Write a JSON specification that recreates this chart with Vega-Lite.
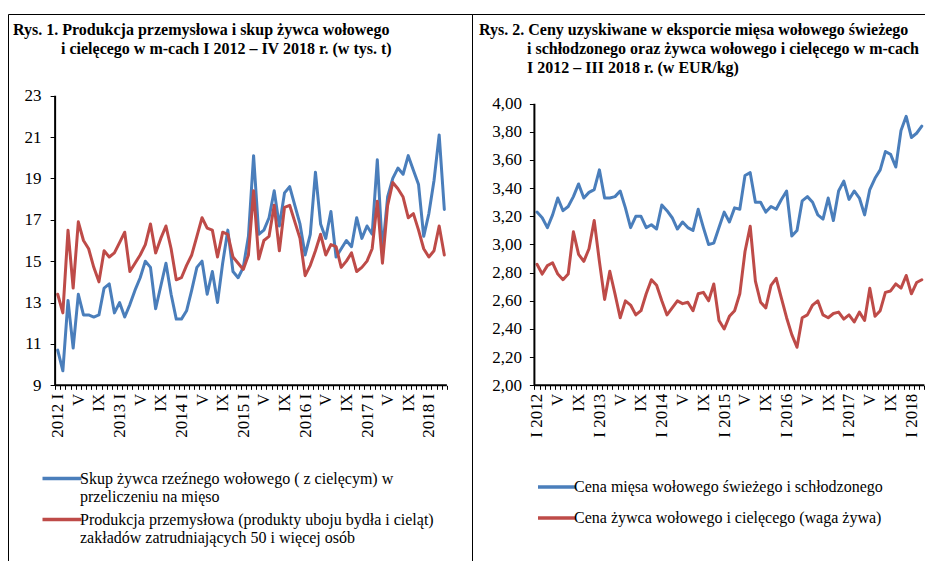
{
  "$schema": "https://vega.github.io/schema/vega-lite/v6.json",
  "padding": {"left": 7, "top": 13, "right": 0, "bottom": 0},
  "background": "white",
  "spacing": 0,
  "bounds": "flush",
  "resolve": {"scale": {"color": "independent"}, "legend": {"color": "independent"}},
  "datasets": {
    "rys1": [
      {"m":0,"skup":10.7,"prod":13.4},{"m":1,"skup":9.7,"prod":12.5},{"m":2,"skup":13.1,"prod":16.5},{"m":3,"skup":10.8,"prod":13.7},
      {"m":4,"skup":13.4,"prod":16.9},{"m":5,"skup":12.4,"prod":16.0},{"m":6,"skup":12.4,"prod":15.6},{"m":7,"skup":12.3,"prod":14.7},
      {"m":8,"skup":12.4,"prod":14.0},{"m":9,"skup":13.7,"prod":15.5},{"m":10,"skup":13.9,"prod":15.2},{"m":11,"skup":12.5,"prod":15.4},
      {"m":12,"skup":13.0,"prod":15.9},{"m":13,"skup":12.3,"prod":16.4},{"m":14,"skup":12.9,"prod":14.5},{"m":15,"skup":13.6,"prod":14.9},
      {"m":16,"skup":14.2,"prod":15.3},{"m":17,"skup":15.0,"prod":15.8},{"m":18,"skup":14.7,"prod":16.8},{"m":19,"skup":12.7,"prod":15.4},
      {"m":20,"skup":13.8,"prod":16.1},{"m":21,"skup":14.9,"prod":16.7},{"m":22,"skup":13.4,"prod":15.6},{"m":23,"skup":12.2,"prod":14.1},
      {"m":24,"skup":12.2,"prod":14.2},{"m":25,"skup":12.6,"prod":14.8},{"m":26,"skup":13.6,"prod":15.3},{"m":27,"skup":14.7,"prod":16.2},
      {"m":28,"skup":15.0,"prod":17.1},{"m":29,"skup":13.4,"prod":16.6},{"m":30,"skup":14.5,"prod":16.5},{"m":31,"skup":13.0,"prod":15.2},
      {"m":32,"skup":14.9,"prod":16.4},{"m":33,"skup":16.5,"prod":16.3},{"m":34,"skup":14.5,"prod":15.2},{"m":35,"skup":14.2,"prod":14.9},
      {"m":36,"skup":14.7,"prod":14.6},{"m":37,"skup":16.2,"prod":15.3},{"m":38,"skup":20.1,"prod":18.4},{"m":39,"skup":16.3,"prod":15.1},
      {"m":40,"skup":16.5,"prod":16.0},{"m":41,"skup":17.1,"prod":16.2},{"m":42,"skup":18.4,"prod":17.7},{"m":43,"skup":16.7,"prod":15.5},
      {"m":44,"skup":18.3,"prod":17.6},{"m":45,"skup":18.6,"prod":17.7},{"m":46,"skup":17.7,"prod":16.9},{"m":47,"skup":16.8,"prod":16.1},
      {"m":48,"skup":15.3,"prod":14.3},{"m":49,"skup":16.3,"prod":14.8},{"m":50,"skup":19.3,"prod":15.5},{"m":51,"skup":16.8,"prod":16.3},
      {"m":52,"skup":16.1,"prod":15.3},{"m":53,"skup":17.4,"prod":15.8},{"m":54,"skup":15.2,"prod":15.7},{"m":55,"skup":15.6,"prod":14.7},
      {"m":56,"skup":16.0,"prod":15.0},{"m":57,"skup":15.7,"prod":15.4},{"m":58,"skup":17.1,"prod":14.5},{"m":59,"skup":16.1,"prod":14.7},
      {"m":60,"skup":16.7,"prod":15.0},{"m":61,"skup":16.3,"prod":15.6},{"m":62,"skup":19.9,"prod":17.9},{"m":63,"skup":15.5,"prod":14.9},
      {"m":64,"skup":18.1,"prod":17.7},{"m":65,"skup":19.0,"prod":18.8},{"m":66,"skup":19.5,"prod":18.5},{"m":67,"skup":19.2,"prod":18.1},
      {"m":68,"skup":20.1,"prod":17.1},{"m":69,"skup":19.4,"prod":17.3},{"m":70,"skup":18.7,"prod":16.5},{"m":71,"skup":16.2,"prod":15.6},
      {"m":72,"skup":17.3,"prod":15.2},{"m":73,"skup":18.9,"prod":15.5},{"m":74,"skup":21.1,"prod":16.7},{"m":75,"skup":17.5,"prod":15.3}
    ],
    "rys2": [
      {"m":0,"mieso":3.23,"zywiec":2.86},{"m":1,"mieso":3.19,"zywiec":2.79},{"m":2,"mieso":3.12,"zywiec":2.85},{"m":3,"mieso":3.21,"zywiec":2.87},
      {"m":4,"mieso":3.33,"zywiec":2.79},{"m":5,"mieso":3.24,"zywiec":2.75},{"m":6,"mieso":3.27,"zywiec":2.79},{"m":7,"mieso":3.34,"zywiec":3.09},
      {"m":8,"mieso":3.43,"zywiec":2.93},{"m":9,"mieso":3.33,"zywiec":2.88},{"m":10,"mieso":3.37,"zywiec":2.97},{"m":11,"mieso":3.39,"zywiec":3.17},
      {"m":12,"mieso":3.53,"zywiec":2.88},{"m":13,"mieso":3.33,"zywiec":2.61},{"m":14,"mieso":3.33,"zywiec":2.81},{"m":15,"mieso":3.34,"zywiec":2.65},
      {"m":16,"mieso":3.38,"zywiec":2.48},{"m":17,"mieso":3.26,"zywiec":2.60},{"m":18,"mieso":3.12,"zywiec":2.57},{"m":19,"mieso":3.20,"zywiec":2.50},
      {"m":20,"mieso":3.20,"zywiec":2.53},{"m":21,"mieso":3.12,"zywiec":2.65},{"m":22,"mieso":3.14,"zywiec":2.75},{"m":23,"mieso":3.11,"zywiec":2.71},
      {"m":24,"mieso":3.28,"zywiec":2.60},{"m":25,"mieso":3.24,"zywiec":2.50},{"m":26,"mieso":3.19,"zywiec":2.55},{"m":27,"mieso":3.11,"zywiec":2.60},
      {"m":28,"mieso":3.16,"zywiec":2.58},{"m":29,"mieso":3.12,"zywiec":2.59},{"m":30,"mieso":3.10,"zywiec":2.53},{"m":31,"mieso":3.25,"zywiec":2.65},
      {"m":32,"mieso":3.12,"zywiec":2.66},{"m":33,"mieso":3.00,"zywiec":2.60},{"m":34,"mieso":3.01,"zywiec":2.72},{"m":35,"mieso":3.12,"zywiec":2.46},
      {"m":36,"mieso":3.23,"zywiec":2.40},{"m":37,"mieso":3.16,"zywiec":2.49},{"m":38,"mieso":3.26,"zywiec":2.53},{"m":39,"mieso":3.25,"zywiec":2.65},
      {"m":40,"mieso":3.49,"zywiec":2.95},{"m":41,"mieso":3.51,"zywiec":3.13},{"m":42,"mieso":3.30,"zywiec":2.74},{"m":43,"mieso":3.30,"zywiec":2.59},
      {"m":44,"mieso":3.23,"zywiec":2.55},{"m":45,"mieso":3.27,"zywiec":2.71},{"m":46,"mieso":3.25,"zywiec":2.76},{"m":47,"mieso":3.32,"zywiec":2.62},
      {"m":48,"mieso":3.38,"zywiec":2.48},{"m":49,"mieso":3.06,"zywiec":2.36},{"m":50,"mieso":3.10,"zywiec":2.27},{"m":51,"mieso":3.31,"zywiec":2.48},
      {"m":52,"mieso":3.34,"zywiec":2.50},{"m":53,"mieso":3.30,"zywiec":2.57},{"m":54,"mieso":3.21,"zywiec":2.60},{"m":55,"mieso":3.18,"zywiec":2.50},
      {"m":56,"mieso":3.33,"zywiec":2.48},{"m":57,"mieso":3.17,"zywiec":2.51},{"m":58,"mieso":3.38,"zywiec":2.52},{"m":59,"mieso":3.45,"zywiec":2.47},
      {"m":60,"mieso":3.32,"zywiec":2.50},{"m":61,"mieso":3.38,"zywiec":2.45},{"m":62,"mieso":3.33,"zywiec":2.52},{"m":63,"mieso":3.21,"zywiec":2.46},
      {"m":64,"mieso":3.39,"zywiec":2.69},{"m":65,"mieso":3.47,"zywiec":2.49},{"m":66,"mieso":3.53,"zywiec":2.53},{"m":67,"mieso":3.66,"zywiec":2.66},
      {"m":68,"mieso":3.64,"zywiec":2.67},{"m":69,"mieso":3.55,"zywiec":2.72},{"m":70,"mieso":3.81,"zywiec":2.69},{"m":71,"mieso":3.91,"zywiec":2.78},
      {"m":72,"mieso":3.76,"zywiec":2.65},{"m":73,"mieso":3.79,"zywiec":2.73},{"m":74,"mieso":3.84,"zywiec":2.75}
    ]
  },
  "hconcat": [
    {
      "width": 464,
      "height": 548,
      "title": {
        "text": ["Rys. 1. Produkcja przemysłowa i skup żywca wołowego", "\u200b\u00a0\u00a0\u00a0\u00a0\u00a0\u00a0\u00a0\u00a0\u00a0\u00a0\u00a0\u00a0i cielęcego w m-cach I 2012 – IV 2018 r. (w tys. t)"],
        "anchor": "start", "frame": "group", "font": "Liberation Serif", "fontSize": 16, "fontWeight": "bold",
        "color": "black", "lineHeight": 19, "offset": -43, "dx": 5
      },
      "resolve": {"axis": {"x": "independent", "y": "independent"}},
      "layer": [
        {
          "data": {"name": "rys1"},
          "transform": [{"fold": ["skup", "prod"], "as": ["s", "v"]}],
          "mark": {"type": "line", "strokeWidth": 3, "strokeJoin": "round", "strokeCap": "round"},
          "encoding": {
            "x": {"field": "m", "type": "quantitative",
              "scale": {"domain": [-9.641, 80.369], "nice": false, "zero": false},
              "axis": {"values": [-0.5,0.5,1.5,2.5,3.5,4.5,5.5,6.5,7.5,8.5,9.5,10.5,11.5,12.5,13.5,14.5,15.5,16.5,17.5,18.5,19.5,20.5,21.5,22.5,23.5,24.5,25.5,26.5,27.5,28.5,29.5,30.5,31.5,32.5,33.5,34.5,35.5,36.5,37.5,38.5,39.5,40.5,41.5,42.5,43.5,44.5,45.5,46.5,47.5,48.5,49.5,50.5,51.5,52.5,53.5,54.5,55.5,56.5,57.5,58.5,59.5,60.5,61.5,62.5,63.5,64.5,65.5,66.5,67.5,68.5,69.5,70.5,71.5,72.5,73.5,74.5,75.5],
                "offset": -176.67, "domain": false, "grid": false, "title": null, "tickSize": 4, "labelAngle": -90,
                "labelOffset": 2.58, "labelPadding": 4, "labelOverlap": false, "labelFlush": false,
                "labelExpr": "(datum.value + 0.5) % 4 == 0 && (datum.value + 0.5) <= 75 ? ((datum.value + 0.5) % 12 == 0 ? (2012 + floor((datum.value + 0.5) / 12)) + ' I' : ((datum.value + 0.5) % 12 == 4 ? 'V' : 'IX')) : ''"}
            },
            "y": {"field": "v", "type": "quantitative",
              "scale": {"domain": [0.46, 26.946], "nice": false, "zero": false},
              "axis": {"values": [9, 11, 13, 15, 17, 19, 21, 23], "format": "d", "offset": -47.12, "domain": false, "grid": false,
                "title": null, "tickSize": 5, "labelPadding": 9, "labelOverlap": false}
            },
            "color": {"field": "s", "type": "nominal",
              "scale": {"domain": ["skup", "prod"], "range": ["#4A7EBB", "#BE4B48"]},
              "legend": {"orient": "none", "legendX": 40, "legendY": 450.5, "title": null, "symbolType": "M-1.625,0H1.625",
                "symbolSize": 576, "symbolStrokeWidth": 3.5, "labelFontSize": 16, "labelFont": "Liberation Serif",
                "labelColor": "black", "labelLimit": 600, "labelOffset": 4, "rowPadding": 1,
                "labelExpr": "datum.label == 'skup' ? ['Skup żywca rzeźnego wołowego ( z cielęcym) w', 'przeliczeniu na mięso'] : ['Produkcja przemysłowa (produkty uboju bydła i cieląt)', 'zakładów zatrudniających 50 i więcej osób']"}
            }
          }
        },
        {
          "data": {"values": [{}]},
          "mark": {"type": "rule", "strokeWidth": 2, "color": "black"},
          "encoding": {
            "x": {"datum": -0.5, "type": "quantitative", "axis": null},
            "y": {"datum": 9, "type": "quantitative", "axis": null},
            "y2": {"datum": 23}
          }
        },
        {
          "data": {"values": [{}]},
          "mark": {"type": "rule", "strokeWidth": 2, "color": "black"},
          "encoding": {
            "x": {"datum": -0.5, "type": "quantitative", "axis": null},
            "x2": {"datum": 75.5},
            "y": {"datum": 9, "type": "quantitative", "axis": null}
          }
        }
      ]
    },
    {
      "width": 454,
      "height": 548,
      "title": {
        "text": ["Rys. 2. Ceny uzyskiwane w eksporcie mięsa wołowego świeżego", "\u200b\u00a0\u00a0\u00a0\u00a0\u00a0\u00a0\u00a0\u00a0\u00a0\u00a0\u00a0\u00a0i schłodzonego oraz żywca wołowego i cielęcego w m-cach", "\u200b\u00a0\u00a0\u00a0\u00a0\u00a0\u00a0\u00a0\u00a0\u00a0\u00a0\u00a0\u00a0I 2012 – III 2018 r. (w EUR/kg)"],
        "anchor": "start", "frame": "group", "font": "Liberation Serif", "fontSize": 16, "fontWeight": "bold",
        "color": "black", "lineHeight": 19, "offset": -62, "dx": 7
      },
      "resolve": {"axis": {"x": "independent", "y": "independent"}},
      "layer": [
        {
          "data": {"name": "rys2"},
          "transform": [{"fold": ["mieso", "zywiec"], "as": ["s", "v"]}],
          "mark": {"type": "line", "strokeWidth": 3, "strokeJoin": "round", "strokeCap": "round"},
          "encoding": {
            "x": {"field": "m", "type": "quantitative",
              "scale": {"domain": [-12.5, 74.808], "nice": false, "zero": false},
              "axis": {"values": [-0.5,0.5,1.5,2.5,3.5,4.5,5.5,6.5,7.5,8.5,9.5,10.5,11.5,12.5,13.5,14.5,15.5,16.5,17.5,18.5,19.5,20.5,21.5,22.5,23.5,24.5,25.5,26.5,27.5,28.5,29.5,30.5,31.5,32.5,33.5,34.5,35.5,36.5,37.5,38.5,39.5,40.5,41.5,42.5,43.5,44.5,45.5,46.5,47.5,48.5,49.5,50.5,51.5,52.5,53.5,54.5,55.5,56.5,57.5,58.5,59.5,60.5,61.5,62.5,63.5,64.5,65.5,66.5,67.5,68.5,69.5,70.5,71.5,72.5,73.5,74.5],
                "offset": -176.67, "domain": false, "grid": false, "title": null, "tickSize": 4, "labelAngle": -90,
                "labelOffset": 2.6, "labelPadding": 4, "labelOverlap": false, "labelFlush": false,
                "labelExpr": "(datum.value + 0.5) % 4 == 0 && (datum.value + 0.5) <= 74 ? ((datum.value + 0.5) % 12 == 0 ? 'I ' + (2012 + floor((datum.value + 0.5) / 12)) : ((datum.value + 0.5) % 12 == 4 ? 'V' : 'IX')) : ''"}
            },
            "y": {"field": "v", "type": "quantitative",
              "scale": {"domain": [0.7455, 4.6367], "nice": false, "zero": false},
              "axis": {"values": [2, 2.2, 2.4, 2.6, 2.8, 3, 3.2, 3.4, 3.6, 3.8, 4], "offset": -62.4, "domain": false, "grid": false,
                "title": null, "tickSize": 5, "labelPadding": 8, "labelOverlap": false,
                "labelExpr": "replace(format(datum.value, '.2f'), '.', ',')"}
            },
            "color": {"field": "s", "type": "nominal",
              "scale": {"domain": ["mieso", "zywiec"], "range": ["#4A7EBB", "#BE4B48"]},
              "legend": {"orient": "none", "legendX": 64, "legendY": 452, "title": null, "symbolType": "stroke",
                "symbolSize": 1444, "symbolStrokeWidth": 3.5, "labelFontSize": 16, "labelFont": "Liberation Serif",
                "labelColor": "black", "labelLimit": 600, "labelOffset": -4, "rowPadding": 2,
                "labelExpr": "datum.label == 'mieso' ? 'Cena mięsa wołowego świeżego i schłodzonego' : 'Cena żywca wołowego i cielęcego (waga żywa)'"}
            }
          }
        },
        {
          "data": {"values": [{}]},
          "mark": {"type": "rule", "strokeWidth": 2, "color": "black"},
          "encoding": {
            "x": {"datum": -0.5, "type": "quantitative", "axis": null},
            "y": {"datum": 2, "type": "quantitative", "axis": null},
            "y2": {"datum": 4}
          }
        },
        {
          "data": {"values": [{}]},
          "mark": {"type": "rule", "strokeWidth": 2, "color": "black"},
          "encoding": {
            "x": {"datum": -0.5, "type": "quantitative", "axis": null},
            "x2": {"datum": 74.5},
            "y": {"datum": 2, "type": "quantitative", "axis": null}
          }
        }
      ]
    }
  ],
  "config": {
    "font": "Liberation Serif",
    "view": {"stroke": "black", "strokeWidth": 1},
    "axis": {"labelFont": "Liberation Serif", "labelFontSize": 17, "labelColor": "black", "tickColor": "black", "tickWidth": 1, "labelOverlap": false}
  }
}
